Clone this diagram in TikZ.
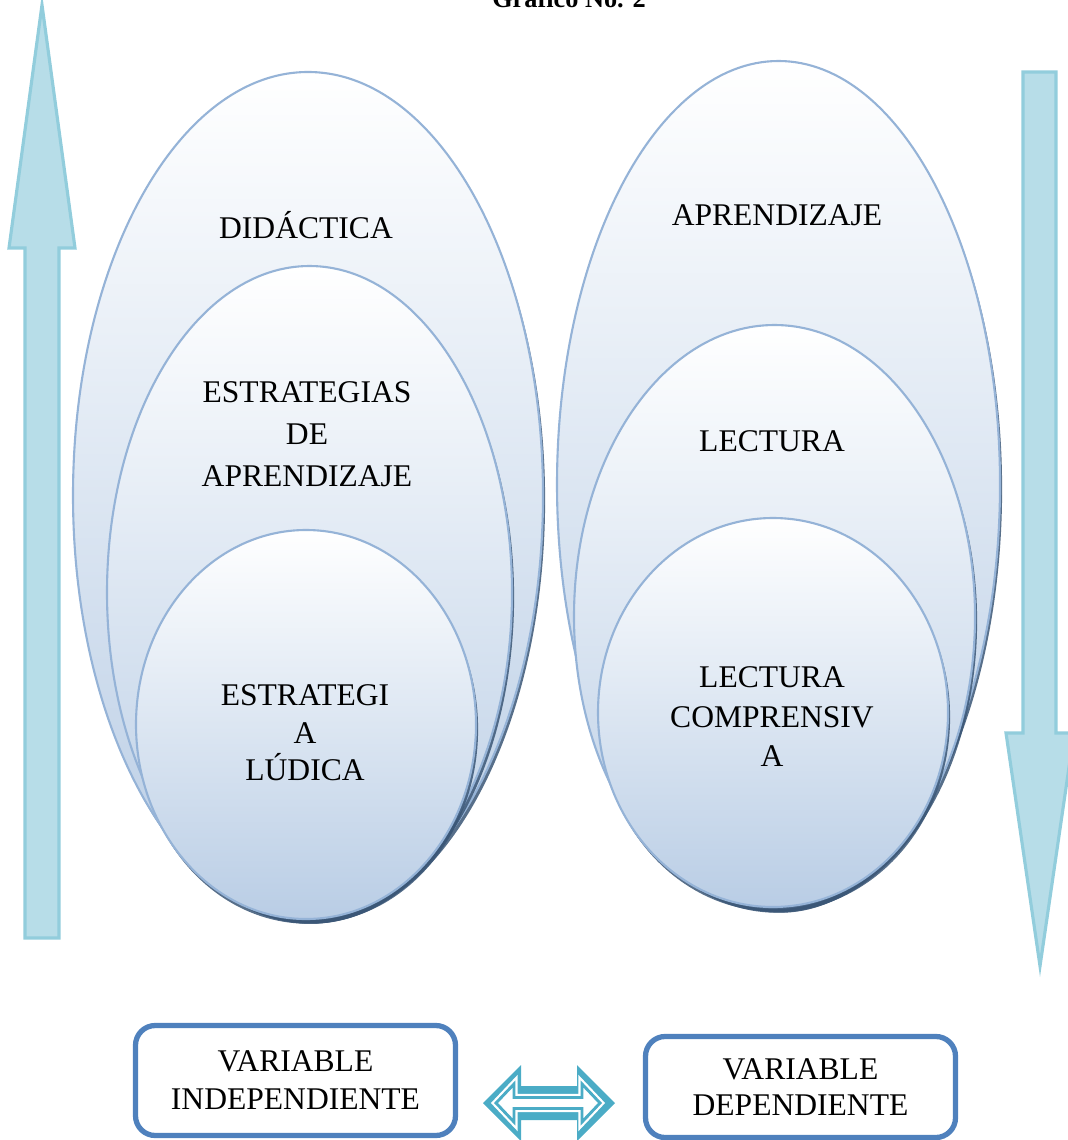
\documentclass[tikz,border=0pt]{standalone}
\usepackage{fontspec}
\setmainfont{Liberation Serif}
\usetikzlibrary{shadows}

\definecolor{bubbleline}{HTML}{95B3D7}
\definecolor{bubblebottom}{HTML}{B9CDE5}
\definecolor{shadowblue}{HTML}{3A5676}
\definecolor{arrowfill}{HTML}{B7DDE8}
\definecolor{arrowline}{HTML}{92CDDC}
\definecolor{boxline}{HTML}{4F81BD}
\definecolor{linkfill}{HTML}{4BACC6}

\tikzset{
  bubble/.style={draw=bubbleline, line width=0.8pt, top color=white, bottom color=bubblebottom,
    drop shadow={shadow xshift=0.8pt, shadow yshift=-1.8pt, fill=shadowblue, opacity=0.85}},
  bigarrow/.style={fill=arrowfill, draw=arrowline, line width=1.2pt},
  varbox/.style={draw=boxline, line width=2pt, rounded corners=7.5pt, fill=white, align=center},
  words/.style={align=center, font=\fontsize{12}{16}\selectfont},
}

\begin{document}
\begin{tikzpicture}[x=38pt, y=-38pt]
\useasboundingbox (0,0) rectangle (10.68,11.40);
\clip (0,0) rectangle (10.68,11.40);

\node[anchor=base, font=\bfseries] (title) at (5.69,0.075) {Gráfico No. 2};

% side arrows
\draw[bigarrow] (0.42,0.05) -- (0.75,2.48) -- (0.59,2.48) -- (0.59,9.38) -- (0.25,9.38) -- (0.25,2.48) -- (0.09,2.48) -- cycle;
\draw[bigarrow] (10.23,0.72) -- (10.56,0.72) -- (10.56,7.33) -- (10.74,7.33) -- (10.40,9.66) -- (10.06,7.33) -- (10.23,7.33) -- cycle;

% left ellipses
\path[bubble] (3.08,4.955) ellipse [x radius=2.35, y radius=4.235];
\path[bubble] (3.095,5.925) ellipse [x radius=2.025, y radius=3.265];
\path[bubble] (3.06,7.245) ellipse [x radius=1.70, y radius=1.945];

% right ellipses
\path[bubble] (7.785,4.845) ellipse [x radius=2.215, y radius=4.235];
\path[bubble] (7.745,6.165) ellipse [x radius=2.005, y radius=2.915];
\path[bubble] (7.73,7.125) ellipse [x radius=1.75, y radius=1.945];

\node[words] (didactica) at (3.06,2.25) {DIDÁCTICA};
\node[words] (estrategias) at (3.07,4.34) {ESTRATEGIAS\\DE\\APRENDIZAJE};
\node[words, font=\fontsize{12}{14.3}\selectfont] (ludica) at (3.05,7.33) {ESTRATEGI\\A\\LÚDICA};

\node[words] (aprendizaje) at (7.77,2.15) {APRENDIZAJE};
\node[words] (lectura) at (7.72,4.41) {LECTURA};
\node[words, font=\fontsize{12}{15}\selectfont] (comprensiva) at (7.72,7.17) {LECTURA\\COMPRENSIV\\A};

% variables
\node[varbox, minimum width=121.6pt, minimum height=41.8pt, font=\fontsize{12}{14.4}\selectfont] (indep) at (2.955,10.805) {VARIABLE\\INDEPENDIENTE};
\node[varbox, minimum width=117.8pt, minimum height=38.4pt, font=\fontsize{12}{13.7}\selectfont] (dep) at (8.005,10.87) {VARIABLE\\DEPENDIENTE};

\fill[linkfill] (4.83,11.03) -- (5.21,10.65) -- (5.21,10.86) -- (5.77,10.86) -- (5.77,10.65) -- (6.15,11.03) -- (5.77,11.41) -- (5.77,11.20) -- (5.21,11.20) -- (5.21,11.41) -- cycle;
\draw[fill=white, draw=linkfill, line width=1.1pt, line join=miter, preaction={draw=white, line width=2.8pt}]
  (4.96,11.03) -- (5.14,10.84) -- (5.14,10.975) -- (5.82,10.975) -- (5.82,10.84) -- (6.00,11.03) -- (5.82,11.22) -- (5.82,11.085) -- (5.14,11.085) -- (5.14,11.22) -- cycle;
\end{tikzpicture}
\end{document}
